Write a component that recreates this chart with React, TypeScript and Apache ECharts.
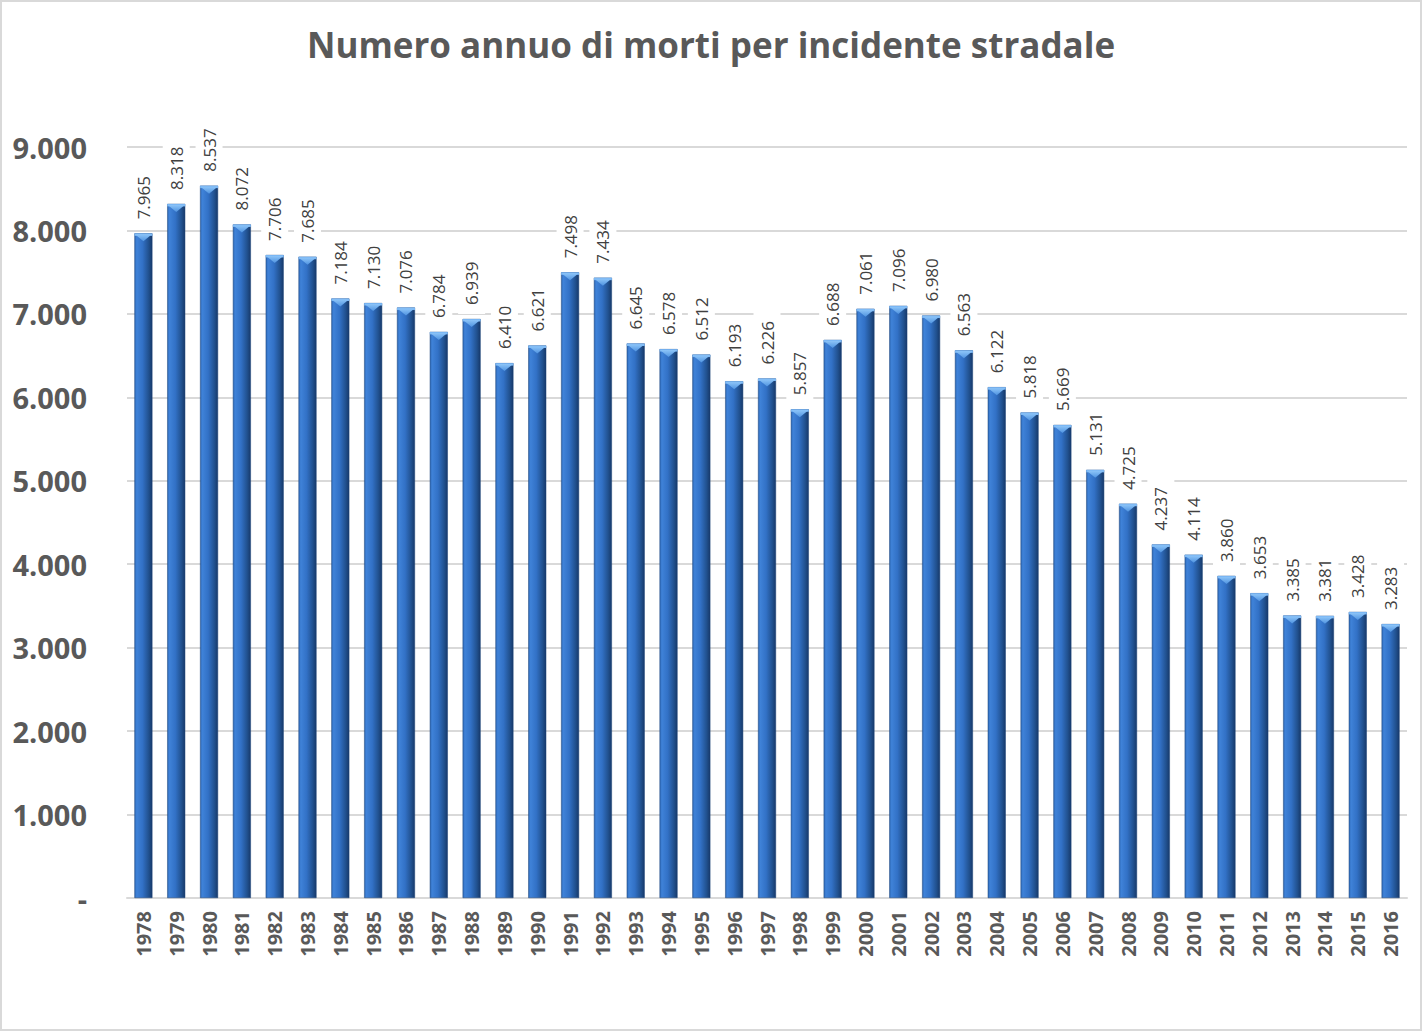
import React, { useEffect, useRef } from "react";
import * as echarts from "echarts";

const TITLE = "Numero annuo di morti per incidente stradale";
const years = [
  "1978", "1979", "1980", "1981", "1982", "1983", "1984", "1985", "1986", "1987",
  "1988", "1989", "1990", "1991", "1992", "1993", "1994", "1995", "1996", "1997",
  "1998", "1999", "2000", "2001", "2002", "2003", "2004", "2005", "2006", "2007",
  "2008", "2009", "2010", "2011", "2012", "2013", "2014", "2015", "2016",
];
const deaths = [
  7965, 8318, 8537, 8072, 7706, 7685, 7184, 7130, 7076, 6784,
  6939, 6410, 6621, 7498, 7434, 6645, 6578, 6512, 6193, 6226,
  5857, 6688, 7061, 7096, 6980, 6563, 6122, 5818, 5669, 5131,
  4725, 4237, 4114, 3860, 3653, 3385, 3381, 3428, 3283,
];
const yMin = 0;
const yMax = 9000;
const yStep = 1000;

const fmt = (v: number) => {
  if (v === 0) return "-";
  return String(Math.round(v)).replace(/\B(?=(\d{3})+(?!\d))/g, ".");
};

const FONT = "'Open Sans', 'Noto Sans', sans-serif";
const BAR_W = 18;

export default function App() {
  const ref = useRef<HTMLDivElement>(null);
  useEffect(() => {
    document.body.style.margin = "0";
    if (!ref.current) return;
    const chart = echarts.init(ref.current, null, { renderer: "svg" });
    const barGradient = new echarts.graphic.LinearGradient(0, 0, 1, 0, [
      { offset: 0, color: "#2F6AB8" },
      { offset: 0.12, color: "#3F82D8" },
      { offset: 0.45, color: "#3271C6" },
      { offset: 0.8, color: "#21518F" },
      { offset: 1, color: "#17396A" },
    ]);
    chart.setOption({
      animation: false,
      backgroundColor: "#ffffff",
      title: {
        text: TITLE,
        left: "center",
        top: 22,
        textStyle: {
          fontFamily: FONT,
          fontSize: 35,
          fontWeight: "bold",
          color: "#595959",
        },
      },
      graphic: [
        {
          type: "rect",
          shape: { x: 1, y: 1, width: 1420, height: 1029 },
          style: { fill: "none", stroke: "#D9D9D9", lineWidth: 2 },
          silent: true,
          z: 100,
        },
      ],
      grid: { left: 127, right: 15, top: 147, bottom: 133, containLabel: false },
      xAxis: {
        type: "category",
        data: years,
        axisLine: { lineStyle: { color: "#D9D9D9", width: 2 } },
        axisTick: { show: false },
        axisLabel: {
          rotate: 90,
          margin: 13,
          interval: 0,
          fontFamily: FONT,
          fontSize: 20,
          fontWeight: "bold",
          color: "#595959",
        },
      },
      yAxis: {
        type: "value",
        min: yMin,
        max: yMax,
        interval: yStep,
        axisLine: { show: false },
        axisTick: { show: false },
        splitLine: { lineStyle: { color: "#D9D9D9", width: 2 } },
        axisLabel: {
          margin: 40,
          fontFamily: FONT,
          fontSize: 29,
          fontWeight: "bold",
          color: "#595959",
          formatter: (v: number) => fmt(v),
        },
      },
      series: [
        {
          type: "bar",
          data: deaths,
          barWidth: BAR_W,
          itemStyle: {
            color: barGradient,
            borderColor: "#1B4279",
            borderWidth: 0.5,
          },
          label: {
            show: true,
            position: "top",
            rotate: 90,
            align: "left",
            verticalAlign: "middle",
            distance: 5,
            padding: [5, 9],
            backgroundColor: "#ffffff",
            fontFamily: FONT,
            fontSize: 17,
            color: "#404040",
            formatter: (p: any) => fmt(p.value),
          },
          z: 2,
        },
        {
          type: "custom",
          data: deaths.map((v, i) => [i, v]),
          z: 3,
          silent: true,
          renderItem: (params: any, api: any) => {
            const p = api.coord([api.value(0), api.value(1)]);
            const l = p[0] - BAR_W / 2;
            const r = p[0] + BAR_W / 2;
            const t = p[1];
            return {
              type: "group",
              children: [
                {
                  type: "rect",
                  shape: { x: l, y: t, width: BAR_W, height: 2.5 },
                  style: { fill: "#79B6F4" },
                },
                {
                  type: "polygon",
                  shape: {
                    points: [
                      [l + 0.5, t + 1],
                      [r - 0.5, t + 1],
                      [p[0], t + 8],
                    ],
                  },
                  style: {
                    fill: new echarts.graphic.LinearGradient(0, 0, 0, 1, [
                      { offset: 0, color: "#8CC4F8" },
                      { offset: 1, color: "#4F93E0" },
                    ]),
                  },
                },
              ],
            };
          },
        },
      ],
    });
    return () => chart.dispose();
  }, []);
  return <div ref={ref} style={{ width: 1422, height: 1031 }} />;
}
